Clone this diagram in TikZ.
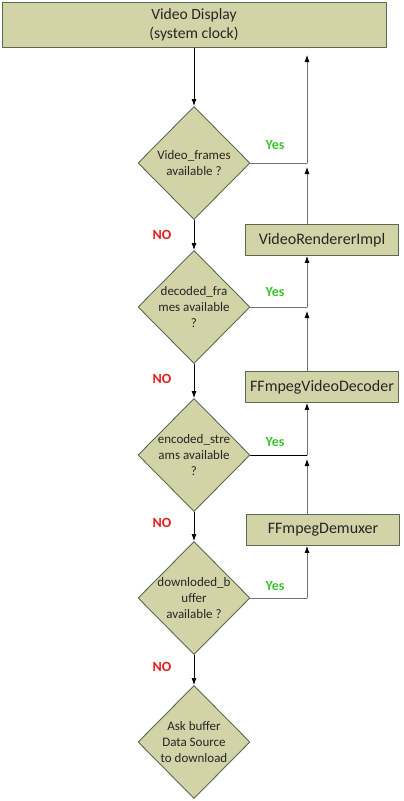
\documentclass[tikz,border=0pt]{standalone}
\usepackage{fontspec}
\setmainfont{Carlito}
\usetikzlibrary{shapes.geometric,arrows.meta}
\definecolor{flowFill}{RGB}{211,211,168}
\definecolor{flowBorder}{RGB}{88,106,80}
\definecolor{flowText}{RGB}{38,38,38}
\definecolor{yesGreen}{RGB}{60,195,45}
\definecolor{noRed}{RGB}{232,28,28}
\begin{document}
\begin{tikzpicture}[x=1pt, y=-1pt, line cap=round, line join=round,
  procbox/.style={draw=flowBorder, fill=flowFill, line width=0.9pt, inner sep=0pt, text=flowText,
    minimum width=153pt, minimum height=31pt, font=\fontsize{16}{19}\selectfont},
  decision/.style={diamond, aspect=1, draw=flowBorder, fill=flowFill, line width=0.9pt,
    inner sep=-8pt, minimum width=112pt, minimum height=113pt, align=center, text=flowText,
    font=\fontsize{13}{16}\selectfont},
  flow/.style={line width=0.8pt, -{Latex[length=7pt,width=5pt,color=black]}},
  feed/.style={flow, draw=black!55},
  yeslbl/.style={text=yesGreen, font=\fontsize{14}{15}\selectfont\bfseries},
  nolbl/.style={text=noRed, font=\fontsize{14}{15}\selectfont\bfseries}]
\useasboundingbox (0,0) rectangle (404,801);
\def\railx{307}
% top box
\node[procbox, minimum width=384pt, minimum height=45pt, align=center,
  font=\fontsize{15.6}{19}\selectfont] (display) at (194,25)
  {Video Display\\(system clock)};
% decisions down the middle
\node[decision] (frames) at (194,163) {Video\_frames\\available ?};
\node[decision] (decoded) at (194,307) {decoded\_fra\\mes available\\?};
\node[decision] (encoded) at (194,455) {encoded\_stre\\ams available\\?};
\node[decision] (download) at (194,598) {downloded\_b\\uffer\\available ?};
\node[decision] (ask) at (194,742) {Ask buffer\\Data Source\\to download};
% components on the right
\node[procbox] (renderer) at (322,240) {VideoRendererImpl};
\node[procbox] (decoder) at (322,387) {FFmpegVideoDecoder};
\node[procbox] (demuxer) at (323,530) {FFmpegDemuxer};
% joins on the rail
\coordinate (jframes) at (\railx,163);
\coordinate (jdecoded) at (\railx,307);
\coordinate (jencoded) at (\railx,455);
\coordinate (jdownload) at (\railx,598);
\coordinate (railtop) at (\railx,55);
% NO path
\draw[flow] (display.south) -- (frames.north);
\draw[flow] (frames.south) -- (decoded.north);
\draw[flow] (decoded.south) -- (encoded.north);
\draw[flow] (encoded.south) -- (download.north);
\draw[flow] (download.south) -- (ask.north);
% Yes path
\draw[line width=0.8pt, draw=black!55] (frames.east) -- (jframes);
\draw[feed] (jframes) -- (railtop);
\draw[feed] (jframes |- renderer.north) -- ([yshift=-4pt]jframes);
\draw[line width=0.8pt, draw=black!55] (decoded.east) -- (jdecoded);
\draw[feed] (jdecoded) -- (jdecoded |- renderer.south);
\draw[feed] (jdecoded |- decoder.north) -- ([yshift=-4pt]jdecoded);
\draw[line width=0.8pt] (encoded.east) -- (jencoded);
\draw[feed] (jencoded) -- (jencoded |- decoder.south);
\draw[feed] (jencoded |- demuxer.north) -- ([yshift=-4pt]jencoded);
\draw[line width=0.8pt, draw=black!55] (download.east) -- (jdownload);
\draw[feed] (jdownload) -- (jdownload |- demuxer.south);
% labels
\node[yeslbl] (yes1) at (275,145) {Yes};
\node[yeslbl] (yes2) at (275,292) {Yes};
\node[yeslbl] (yes3) at (275,442) {Yes};
\node[yeslbl] (yes4) at (275,586) {Yes};
\node[nolbl] (no1) at (162,235) {NO};
\node[nolbl] (no2) at (162,379) {NO};
\node[nolbl] (no3) at (162,523) {NO};
\node[nolbl] (no4) at (162,667) {NO};
\end{tikzpicture}
\end{document}
